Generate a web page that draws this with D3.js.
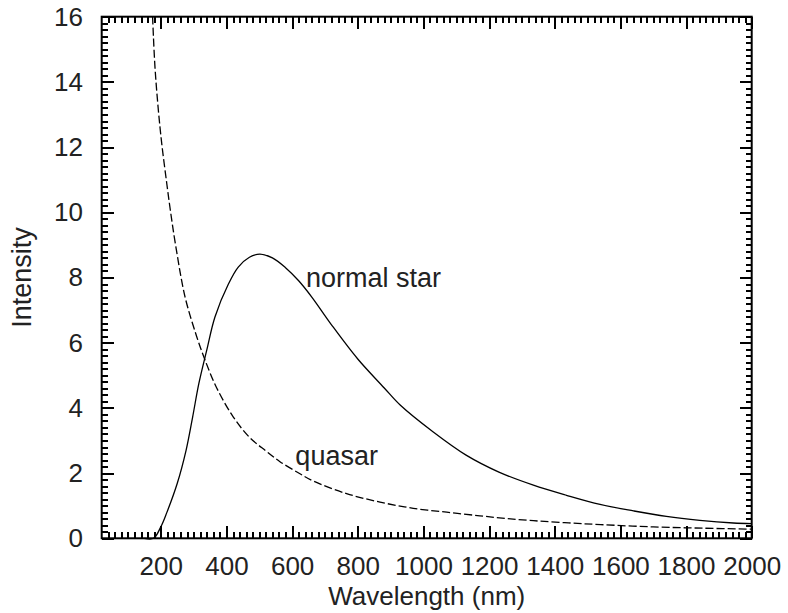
<!DOCTYPE html>
<html>
<head>
<meta charset="utf-8">
<script src="https://cdn.jsdelivr.net/npm/d3@7"></script>
<style>
  body { margin: 0; background: #fff; }
  svg { font-family: "Liberation Sans", Arial, sans-serif; }
</style>
</head>
<body>
<script>
// values
const starWavelength = [150, 178, 200, 218, 250, 277, 297, 316, 340, 365, 406, 436, 470, 502, 540, 580, 620, 660, 720, 800, 880, 930, 1030, 1130, 1230, 1335, 1436, 1538, 1640, 1740, 1842, 1944, 2000];
const starIntensity  = [0, 0, 0.35, 0.78, 1.68, 2.7, 3.72, 4.75, 5.77, 6.79, 7.8, 8.32, 8.62, 8.72, 8.6, 8.3, 7.9, 7.4, 6.55, 5.5, 4.62, 4.08, 3.26, 2.55, 2.03, 1.63, 1.32, 1.04, 0.84, 0.67, 0.55, 0.47, 0.45];

const quasarWavelength = [175, 182, 192, 203, 218, 230, 245, 274, 309, 335, 370, 421, 470, 520, 563, 624, 664, 766, 868, 969, 1071, 1172, 1250, 1335, 1430, 1540, 1700, 1850, 2000];
const quasarIntensity  = [16, 14.5, 13.2, 12.1, 10.9, 10.0, 9.0, 7.4, 6.2, 5.46, 4.62, 3.72, 3.1, 2.68, 2.35, 1.98, 1.76, 1.37, 1.11, 0.92, 0.8, 0.69, 0.61, 0.54, 0.48, 0.42, 0.35, 0.31, 0.28];

const xMajorTicks = [200, 400, 600, 800, 1000, 1200, 1400, 1600, 1800, 2000];
const yMajorTicks = [0, 2, 4, 6, 8, 10, 12, 14, 16];

const seriesLabels = [
  {text: 'normal star', wl: 642, val: 7.7},
  {text: 'quasar', wl: 610, val: 2.25}
];

const margin = {left: 101.7, top: 16.7, right: 36.3, bottom: 74.7},
    width = 788 - margin.left - margin.right,
    height = 613 - margin.top - margin.bottom;

const svg = d3.select('body').append('svg')
    .attr('width', 788)
    .attr('height', 613);

const g = svg.append('g')
    .attr('transform', 'translate(' + margin.left + ',' + margin.top + ')');

const x = d3.scaleLinear().domain([20, 2000]).range([0, width]);
const y = d3.scaleLinear().domain([0, 16]).range([height, 0]);

const xMinor = d3.range(40, 2000, 20).filter(v => v % 200 !== 0);
const yMinor = d3.range(1, 80).map(i => i / 5).filter(v => Math.abs(v / 2 - Math.round(v / 2)) > 1e-6);

// axes with inward ticks on all four sides
function styleAxis(sel) {
  sel.select('.domain').remove();
  sel.selectAll('line').attr('stroke', '#000').attr('stroke-width', 2).attr('shape-rendering', 'crispEdges');
  sel.selectAll('text').attr('fill', '#222').style('font-size', '26px');
}

g.append('g').attr('transform', 'translate(0,' + height + ')')
    .call(d3.axisBottom(x).tickValues(xMinor).tickSize(-6).tickFormat(''))
    .call(styleAxis);
g.append('g').attr('transform', 'translate(0,' + height + ')')
    .call(d3.axisBottom(x).tickValues(xMajorTicks).tickSize(-12).tickPadding(18).tickFormat(d3.format('d')))
    .call(styleAxis);
g.append('g')
    .call(d3.axisTop(x).tickValues(xMinor).tickSize(-6).tickFormat(''))
    .call(styleAxis);
g.append('g')
    .call(d3.axisTop(x).tickValues(xMajorTicks).tickSize(-12).tickFormat(''))
    .call(styleAxis);

g.append('g')
    .call(d3.axisLeft(y).tickValues(yMinor).tickSize(-6).tickFormat(''))
    .call(styleAxis);
g.append('g')
    .call(d3.axisLeft(y).tickValues(yMajorTicks).tickSize(-12).tickPadding(18.7).tickFormat(d3.format('d')))
    .call(styleAxis);
g.append('g').attr('transform', 'translate(' + width + ',0)')
    .call(d3.axisRight(y).tickValues(yMinor).tickSize(-6).tickFormat(''))
    .call(styleAxis);
g.append('g').attr('transform', 'translate(' + width + ',0)')
    .call(d3.axisRight(y).tickValues(yMajorTicks).tickSize(-12).tickFormat(''))
    .call(styleAxis);

// frame
g.append('rect')
    .attr('width', width)
    .attr('height', height)
    .attr('fill', 'none')
    .attr('stroke', '#000')
    .attr('stroke-width', 2);

// curves
const line = d3.line()
    .x(d => x(d[0]))
    .y(d => y(d[1]))
    .curve(d3.curveCatmullRom.alpha(0.5));

g.append('path')
    .datum(d3.zip(starWavelength, starIntensity))
    .attr('d', line)
    .attr('fill', 'none')
    .attr('stroke', '#000')
    .attr('stroke-width', 1.3);

g.append('path')
    .datum(d3.zip(quasarWavelength, quasarIntensity))
    .attr('d', line)
    .attr('fill', 'none')
    .attr('stroke', '#000')
    .attr('stroke-width', 1.3)
    .attr('stroke-dasharray', '8,3');

// curve labels
seriesLabels.forEach(function(d) {
  g.append('text')
      .text(d.text)
      .attr('x', x(d.wl))
      .attr('y', y(d.val))
      .style('font-size', '27px')
      .attr('fill', '#222');
});

// axis titles
g.append('text')
    .text('Wavelength (nm)')
    .attr('text-anchor', 'middle')
    .attr('x', width / 2)
    .attr('y', height + 67)
    .style('font-size', '26px')
    .attr('fill', '#222');
g.append('text')
    .text('Intensity')
    .attr('text-anchor', 'middle')
    .attr('transform', 'translate(' + (-71) + ',' + (height / 2) + ') rotate(-90)')
    .style('font-size', '27px')
    .attr('fill', '#222');
</script>
</body>
</html>
